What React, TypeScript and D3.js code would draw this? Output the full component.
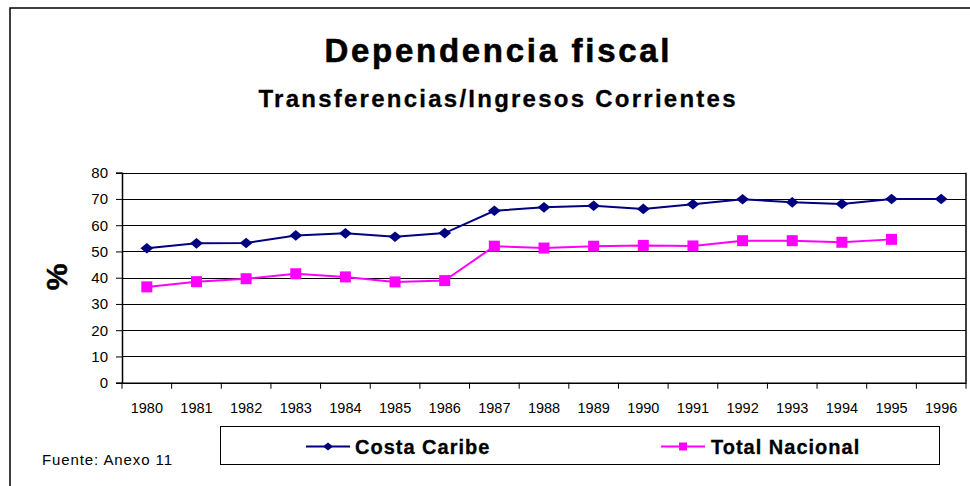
import React, { useRef, useEffect } from "react";
import * as d3 from "d3";

const years = ["1980","1981","1982","1983","1984","1985","1986","1987","1988","1989","1990","1991","1992","1993","1994","1995","1996"];
const costaCaribe = [51.2, 53.1, 53.2, 56.1, 56.9, 55.6, 57.0, 65.5, 66.8, 67.4, 66.2, 68.0, 69.9, 68.7, 68.1, 70.0, 70.0];
const totalNacional: (number | null)[] = [36.5, 38.5, 39.6, 41.5, 40.3, 38.4, 38.9, 52.0, 51.3, 52.0, 52.3, 52.1, 54.1, 54.1, 53.5, 54.6, null];
const yTicks = [0, 10, 20, 30, 40, 50, 60, 70, 80];

const NAVY = "#000080";
const MAGENTA = "#FF00FF";
const FONT = "'Liberation Sans', Arial, sans-serif";

const App = () => {
  const canvas = useRef<SVGSVGElement>(null);

  const width = 970;
  const height = 486;
  const plot = { left: 122, right: 966, top: 172.7, bottom: 382.7 };

  const drawChart = () => {
    const svg = d3.select(canvas.current);
    svg.selectAll("*").remove();

    svg.append("rect").attr("x", 0).attr("y", 0).attr("width", width).attr("height", height).attr("fill", "#fff");
    // outer frame
    svg.append("rect")
      .attr("x", 10).attr("y", 8).attr("width", width + 20).attr("height", height + 20)
      .attr("fill", "none").attr("stroke", "#000").attr("stroke-width", 1.5);

    const x = d3.scaleBand().domain(years).range([plot.left, plot.right]);
    const y = d3.scaleLinear().domain([0, 80]).range([plot.bottom, plot.top]);
    const cx = (i: number) => (x(years[i]) as number) + x.bandwidth() / 2;

    // titles
    svg.append("text").attr("x", 497).attr("y", 62).attr("text-anchor", "middle")
      .attr("font-family", FONT).attr("font-weight", "bold").attr("font-size", 33)
      .attr("stroke", "#000").attr("stroke-width", 0.6)
      .attr("textLength", 345).attr("lengthAdjust", "spacing")
      .text("Dependencia fiscal");
    svg.append("text").attr("x", 497).attr("y", 107).attr("text-anchor", "middle")
      .attr("font-family", FONT).attr("font-weight", "bold").attr("font-size", 24)
      .attr("stroke", "#000").attr("stroke-width", 0.3)
      .attr("textLength", 477).attr("lengthAdjust", "spacing")
      .text("Transferencias/Ingresos Corrientes");

    // gridlines
    svg.append("g").selectAll("line").data(yTicks).enter().append("line")
      .attr("x1", plot.left).attr("x2", plot.right)
      .attr("y1", d => Math.round(y(d)) + 0.5).attr("y2", d => Math.round(y(d)) + 0.5)
      .attr("stroke", "#000").attr("stroke-width", 1);

    // right border of plot
    svg.append("line").attr("x1", plot.right).attr("x2", plot.right)
      .attr("y1", plot.top).attr("y2", plot.bottom).attr("stroke", "#000").attr("stroke-width", 1.5);

    // y axis
    const yAxis = svg.append("g").attr("transform", `translate(${plot.left},0)`)
      .call(d3.axisLeft(y).tickValues(yTicks).tickSize(6).tickPadding(8));
    yAxis.select(".domain").attr("stroke", "#000").attr("stroke-width", 1.5);
    yAxis.selectAll("text").attr("font-family", FONT).attr("font-size", 15).attr("fill", "#000");

    // x axis
    const xAxis = svg.append("g").attr("transform", `translate(0,${plot.bottom})`)
      .call(d3.axisBottom(x).tickSize(0).tickPadding(20));
    xAxis.select(".domain").attr("stroke", "#000").attr("stroke-width", 1.5);
    xAxis.selectAll("text").attr("font-family", FONT).attr("font-size", 14.5).attr("fill", "#000");
    xAxis.selectAll(".tickmark").data(d3.range(years.length + 1)).enter().append("line")
      .attr("class", "tickmark")
      .attr("x1", i => plot.left + i * x.bandwidth()).attr("x2", i => plot.left + i * x.bandwidth())
      .attr("y1", 0).attr("y2", 6).attr("stroke", "#000").attr("stroke-width", 1);

    // % label
    svg.append("text").attr("transform", "translate(67,277) rotate(-90)").attr("text-anchor", "middle")
      .attr("font-family", FONT).attr("font-weight", "bold").attr("font-size", 30)
      .attr("stroke", "#000").attr("stroke-width", 0.5).text("%");

    // lines
    const lineCC = d3.line<number>().x((d, i) => cx(i)).y(d => y(d));
    svg.append("path").datum(costaCaribe).attr("d", lineCC)
      .attr("fill", "none").attr("stroke", NAVY).attr("stroke-width", 2);

    const lineTN = d3.line<number | null>().defined(d => d !== null).x((d, i) => cx(i)).y(d => y(d as number));
    svg.append("path").datum(totalNacional).attr("d", lineTN)
      .attr("fill", "none").attr("stroke", MAGENTA).attr("stroke-width", 2);

    const diamond = d3.symbol().type(d3.symbolDiamond2).size(72);
    svg.append("g").selectAll("path").data(costaCaribe).enter().append("path")
      .attr("d", diamond)
      .attr("transform", (d, i) => `translate(${cx(i)},${y(d)}) scale(1.2,1)`)
      .attr("fill", NAVY);

    svg.append("g").selectAll("rect").data(totalNacional.map((v, i) => ({ v, i })).filter(d => d.v !== null)).enter()
      .append("rect")
      .attr("x", d => cx(d.i) - 5.5).attr("y", d => y(d.v as number) - 5.5)
      .attr("width", 11).attr("height", 11).attr("fill", MAGENTA);

    // legend
    const lg = svg.append("g");
    lg.append("rect").attr("x", 220.5).attr("y", 426.5).attr("width", 719).attr("height", 38)
      .attr("fill", "#fff").attr("stroke", "#000").attr("stroke-width", 1);
    const items = [
      { name: "Costa Caribe", color: NAVY, x0: 306, tx: 355, marker: "diamond" },
      { name: "Total Nacional", color: MAGENTA, x0: 661, tx: 711, marker: "square" },
    ];
    items.forEach(it => {
      lg.append("line").attr("x1", it.x0).attr("x2", it.x0 + 44).attr("y1", 446.5).attr("y2", 446.5)
        .attr("stroke", it.color).attr("stroke-width", 2);
      if (it.marker === "diamond") {
        lg.append("path").attr("d", d3.symbol().type(d3.symbolDiamond2).size(40))
          .attr("transform", `translate(${it.x0 + 22},446.5) scale(1.25,1)`).attr("fill", it.color);
      } else {
        lg.append("rect").attr("x", it.x0 + 18).attr("y", 442.5).attr("width", 8).attr("height", 8).attr("fill", it.color);
      }
      lg.append("text").attr("x", it.tx).attr("y", 453.5).attr("font-family", FONT).attr("font-weight", "bold")
        .attr("font-size", 20).attr("letter-spacing", 1).attr("stroke", "#000").attr("stroke-width", 0.3)
        .text(it.name);
    });

    svg.append("text").attr("x", 42).attr("y", 465).attr("font-family", FONT).attr("font-size", 15)
      .attr("textLength", 130).attr("lengthAdjust", "spacing")
      .text("Fuente: Anexo 11");
  };

  useEffect(() => {
    drawChart();
  });

  return (
    <svg ref={canvas} width={width} height={height} style={{ position: "absolute", left: 0, top: 0 }}></svg>
  );
};

export default App;
